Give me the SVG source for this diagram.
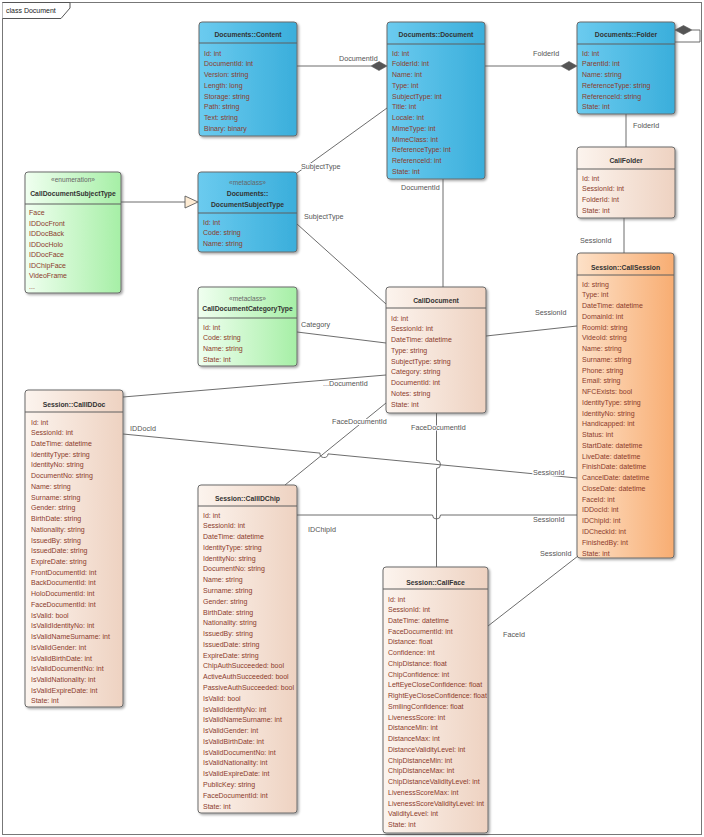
<svg xmlns="http://www.w3.org/2000/svg" width="704" height="837" viewBox="0 0 704 837">
<defs>
<linearGradient id="gB" x1="0" y1="0" x2="1" y2="0"><stop offset="0" stop-color="#6bcbef"/><stop offset="1" stop-color="#3aaedb"/></linearGradient>
<linearGradient id="gP" x1="0" y1="0" x2="1" y2="0"><stop offset="0" stop-color="#fcf4ee"/><stop offset="1" stop-color="#eed2c1"/></linearGradient>
<linearGradient id="gO" x1="0" y1="0" x2="1" y2="0"><stop offset="0" stop-color="#fde1c8"/><stop offset="1" stop-color="#f8ad72"/></linearGradient>
<linearGradient id="gG" x1="0" y1="0" x2="1" y2="0"><stop offset="0" stop-color="#f0fff0"/><stop offset="1" stop-color="#a6efa6"/></linearGradient>
<filter id="sh" x="-10%" y="-10%" width="130%" height="130%"><feDropShadow dx="1.5" dy="1.5" stdDeviation="1" flood-color="#000" flood-opacity="0.35"/></filter>
<clipPath id="cChip"><rect x="198" y="485" width="98.5" height="328"/></clipPath>
<clipPath id="cFace"><rect x="383" y="567" width="104.5" height="266"/></clipPath>
</defs>
<style>
.bx{stroke:#6a6a6a;stroke-width:1;filter:url(#sh)}
.sep{stroke:#5e5e5e;stroke-width:1}
text{font-family:"Liberation Sans",Arial,sans-serif}
.t{font-size:6.8px;font-weight:bold;fill:#333;text-anchor:middle}
.st{font-size:6.6px;fill:#666;text-anchor:middle}
.a{font-size:7px;fill:#8c3b2c}
.l{font-size:7.2px;fill:#555;paint-order:stroke;stroke:#fff;stroke-width:2px;stroke-linejoin:round}
.c{stroke:#5c5c5c;stroke-width:0.9;fill:none}
.d{fill:#555;stroke:#555;stroke-width:0.6}
</style>
<g id="frame">
<rect x="2.5" y="2.5" width="699" height="832" fill="#fff" stroke="#777"/>
<path d="M2.5,2.5 H70 V8 L61,18.5 H2.5" fill="#fff" stroke="#555"/>
<text x="6" y="13" font-size="7" fill="#222">class Document</text>
</g>

<g id="content">
<rect class="bx" x="199" y="22" width="98" height="114" rx="3" fill="url(#gB)"/>
<line class="sep" x1="199" y1="43" x2="297" y2="43"/>
<text class="t" x="248" y="36.5">Documents::Content</text>
<text class="a"><tspan x="204" y="55.5">Id: int</tspan><tspan x="204" dy="10.75">DocumentId: int</tspan><tspan x="204" dy="10.75">Version: string</tspan><tspan x="204" dy="10.75">Length: long</tspan><tspan x="204" dy="10.75">Storage: string</tspan><tspan x="204" dy="10.75">Path: string</tspan><tspan x="204" dy="10.75">Text: string</tspan><tspan x="204" dy="10.75">Binary: binary</tspan></text>
</g>

<g id="document">
<rect class="bx" x="387" y="22" width="98" height="157" rx="3" fill="url(#gB)"/>
<line class="sep" x1="387" y1="44" x2="485" y2="44"/>
<text class="t" x="436" y="36.5">Documents::Document</text>
<text class="a"><tspan x="392" y="55.5">Id: int</tspan><tspan x="392" dy="10.75">FolderId: int</tspan><tspan x="392" dy="10.75">Name: int</tspan><tspan x="392" dy="10.75">Type: int</tspan><tspan x="392" dy="10.75">SubjectType: int</tspan><tspan x="392" dy="10.75">Title: int</tspan><tspan x="392" dy="10.75">Locale: int</tspan><tspan x="392" dy="10.75">MimeType: int</tspan><tspan x="392" dy="10.75">MimeClass: int</tspan><tspan x="392" dy="10.75">ReferenceType: int</tspan><tspan x="392" dy="10.75">ReferenceId: int</tspan><tspan x="392" dy="10.75">State: int</tspan></text>
</g>

<g id="folder">
<rect class="bx" x="577" y="22" width="98" height="92" rx="3" fill="url(#gB)"/>
<line class="sep" x1="577" y1="44" x2="675" y2="44"/>
<text class="t" x="626" y="36.5">Documents::Folder</text>
<text class="a"><tspan x="582" y="55.5">Id: int</tspan><tspan x="582" dy="10.75">ParentId: int</tspan><tspan x="582" dy="10.75">Name: string</tspan><tspan x="582" dy="10.75">ReferenceType: string</tspan><tspan x="582" dy="10.75">ReferenceId: string</tspan><tspan x="582" dy="10.75">State: int</tspan></text>
</g>

<g id="callfolder">
<rect class="bx" x="577" y="147" width="98" height="71" rx="3" fill="url(#gP)"/>
<line class="sep" x1="577" y1="169" x2="675" y2="169"/>
<text class="t" x="626" y="162.5">CallFolder</text>
<text class="a"><tspan x="582" y="180.5">Id: int</tspan><tspan x="582" dy="10.75">SessionId: int</tspan><tspan x="582" dy="10.75">FolderId: int</tspan><tspan x="582" dy="10.75">State: int</tspan></text>
</g>

<g id="enum-subjecttype">
<rect class="bx" x="25" y="172" width="96" height="121" rx="3" fill="url(#gG)"/>
<line class="sep" x1="25" y1="204" x2="121" y2="204"/>
<text class="st" x="73" y="181.5">«enumeration»</text>
<text class="t" x="73" y="195.5">CallDocumentSubjectType</text>
<text class="a"><tspan x="29" y="215.2">Face</tspan><tspan x="29" dy="10.5">IDDocFront</tspan><tspan x="29" dy="10.5">IDDocBack</tspan><tspan x="29" dy="10.5">IDDocHolo</tspan><tspan x="29" dy="10.5">IDDocFace</tspan><tspan x="29" dy="10.5">IDChipFace</tspan><tspan x="29" dy="10.5">VideoFrame</tspan><tspan x="29" dy="10.5">...</tspan></text>
</g>

<g id="documentsubjecttype">
<rect class="bx" x="198" y="172" width="99" height="80" rx="3" fill="url(#gB)"/>
<line class="sep" x1="198" y1="213" x2="297" y2="213"/>
<text class="st" x="247.5" y="184.5">«metaclass»</text>
<text class="t" x="247.5" y="195.5">Documents::</text>
<text class="t" x="247.5" y="206.5">DocumentSubjectType</text>
<text class="a"><tspan x="203" y="224.5">Id: int</tspan><tspan x="203" dy="10.75">Code: string</tspan><tspan x="203" dy="10.75">Name: string</tspan></text>
</g>

<g id="categorytype">
<rect class="bx" x="198" y="287" width="99" height="79" rx="3" fill="url(#gG)"/>
<line class="sep" x1="198" y1="318" x2="297" y2="318"/>
<text class="st" x="247.5" y="300.5">«metaclass»</text>
<text class="t" x="247.5" y="310.5">CallDocumentCategoryType</text>
<text class="a"><tspan x="203" y="329.5">Id: int</tspan><tspan x="203" dy="10.75">Code: string</tspan><tspan x="203" dy="10.75">Name: string</tspan><tspan x="203" dy="10.75">State: int</tspan></text>
</g>

<g id="calldocument">
<rect class="bx" x="386" y="287" width="100" height="126" rx="3" fill="url(#gP)"/>
<line class="sep" x1="386" y1="308" x2="486" y2="308"/>
<text class="t" x="436" y="302.5">CallDocument</text>
<text class="a"><tspan x="391" y="320.5">Id: int</tspan><tspan x="391" dy="10.75">SessionId: int</tspan><tspan x="391" dy="10.75">DateTime: datetime</tspan><tspan x="391" dy="10.75">Type: string</tspan><tspan x="391" dy="10.75">SubjectType: string</tspan><tspan x="391" dy="10.75">Category: string</tspan><tspan x="391" dy="10.75">DocumentId: int</tspan><tspan x="391" dy="10.75">Notes: string</tspan><tspan x="391" dy="10.75">State: int</tspan></text>
</g>

<g id="callsession">
<rect class="bx" x="577" y="253" width="97" height="305" rx="3" fill="url(#gO)"/>
<line class="sep" x1="577" y1="275" x2="674" y2="275"/>
<text class="t" x="625.5" y="269.5">Session::CallSession</text>
<text class="a"><tspan x="582" y="286.5">Id: string</tspan><tspan x="582" dy="10.76">Type: int</tspan><tspan x="582" dy="10.76">DateTime: datetime</tspan><tspan x="582" dy="10.76">DomainId: int</tspan><tspan x="582" dy="10.76">RoomId: string</tspan><tspan x="582" dy="10.76">VideoId: string</tspan><tspan x="582" dy="10.76">Name: string</tspan><tspan x="582" dy="10.76">Surname: string</tspan><tspan x="582" dy="10.76">Phone: string</tspan><tspan x="582" dy="10.76">Email: string</tspan><tspan x="582" dy="10.76">NFCExists: bool</tspan><tspan x="582" dy="10.76">IdentityType: string</tspan><tspan x="582" dy="10.76">IdentityNo: string</tspan><tspan x="582" dy="10.76">Handicapped: int</tspan><tspan x="582" dy="10.76">Status: int</tspan><tspan x="582" dy="10.76">StartDate: datetime</tspan><tspan x="582" dy="10.76">LiveDate: datetime</tspan><tspan x="582" dy="10.76">FinishDate: datetime</tspan><tspan x="582" dy="10.76">CancelDate: datetime</tspan><tspan x="582" dy="10.76">CloseDate: datetime</tspan><tspan x="582" dy="10.76">FaceId: int</tspan><tspan x="582" dy="10.76">IDDocId: int</tspan><tspan x="582" dy="10.76">IDChipId: int</tspan><tspan x="582" dy="10.76">IDCheckId: int</tspan><tspan x="582" dy="10.76">FinishedBy: int</tspan><tspan x="582" dy="10.76">State: int</tspan></text>
</g>

<g id="calliddoc">
<rect class="bx" x="25" y="390" width="98" height="317" rx="3" fill="url(#gP)"/>
<line class="sep" x1="25" y1="412" x2="123" y2="412"/>
<text class="t" x="74" y="406.5">Session::CallIDDoc</text>
<text class="a"><tspan x="31" y="424.5">Id: int</tspan><tspan x="31" dy="10.73">SessionId: int</tspan><tspan x="31" dy="10.73">DateTime: datetime</tspan><tspan x="31" dy="10.73">IdentityType: string</tspan><tspan x="31" dy="10.73">IdentityNo: string</tspan><tspan x="31" dy="10.73">DocumentNo: string</tspan><tspan x="31" dy="10.73">Name: string</tspan><tspan x="31" dy="10.73">Surname: string</tspan><tspan x="31" dy="10.73">Gender: string</tspan><tspan x="31" dy="10.73">BirthDate: string</tspan><tspan x="31" dy="10.73">Nationality: string</tspan><tspan x="31" dy="10.73">IssuedBy: string</tspan><tspan x="31" dy="10.73">IssuedDate: string</tspan><tspan x="31" dy="10.73">ExpireDate: string</tspan><tspan x="31" dy="10.73">FrontDocumentId: int</tspan><tspan x="31" dy="10.73">BackDocumentId: int</tspan><tspan x="31" dy="10.73">HoloDocumentId: int</tspan><tspan x="31" dy="10.73">FaceDocumentId: int</tspan><tspan x="31" dy="10.73">IsValid: bool</tspan><tspan x="31" dy="10.73">IsValidIdentityNo: int</tspan><tspan x="31" dy="10.73">IsValidNameSurname: int</tspan><tspan x="31" dy="10.73">IsValidGender: int</tspan><tspan x="31" dy="10.73">IsValidBirthDate: int</tspan><tspan x="31" dy="10.73">IsValidDocumentNo: int</tspan><tspan x="31" dy="10.73">IsValidNationality: int</tspan><tspan x="31" dy="10.73">IsValidExpireDate: int</tspan><tspan x="31" dy="10.73">State: int</tspan></text>
</g>

<g id="callidchip">
<rect class="bx" x="198" y="485" width="99" height="328" rx="3" fill="url(#gP)"/>
<line class="sep" x1="198" y1="506" x2="297" y2="506"/>
<text class="t" x="247.5" y="500.5">Session::CallIDChip</text>
<text class="a" clip-path="url(#cChip)"><tspan x="203" y="517.5">Id: int</tspan><tspan x="203" dy="10.78">SessionId: int</tspan><tspan x="203" dy="10.78">DateTime: datetime</tspan><tspan x="203" dy="10.78">IdentityType: string</tspan><tspan x="203" dy="10.78">IdentityNo: string</tspan><tspan x="203" dy="10.78">DocumentNo: string</tspan><tspan x="203" dy="10.78">Name: string</tspan><tspan x="203" dy="10.78">Surname: string</tspan><tspan x="203" dy="10.78">Gender: string</tspan><tspan x="203" dy="10.78">BirthDate: string</tspan><tspan x="203" dy="10.78">Nationality: string</tspan><tspan x="203" dy="10.78">IssuedBy: string</tspan><tspan x="203" dy="10.78">IssuedDate: string</tspan><tspan x="203" dy="10.78">ExpireDate: string</tspan><tspan x="203" dy="10.78">ChipAuthSucceeded: bool</tspan><tspan x="203" dy="10.78">ActiveAuthSucceeded: bool</tspan><tspan x="203" dy="10.78">PassiveAuthSucceeded: bool</tspan><tspan x="203" dy="10.78">IsValid: bool</tspan><tspan x="203" dy="10.78">IsValidIdentityNo: int</tspan><tspan x="203" dy="10.78">IsValidNameSurname: int</tspan><tspan x="203" dy="10.78">IsValidGender: int</tspan><tspan x="203" dy="10.78">IsValidBirthDate: int</tspan><tspan x="203" dy="10.78">IsValidDocumentNo: int</tspan><tspan x="203" dy="10.78">IsValidNationality: int</tspan><tspan x="203" dy="10.78">IsValidExpireDate: int</tspan><tspan x="203" dy="10.78">PublicKey: string</tspan><tspan x="203" dy="10.78">FaceDocumentId: int</tspan><tspan x="203" dy="10.78">State: int</tspan></text>
</g>

<g id="callface">
<rect class="bx" x="383" y="567" width="105" height="266" rx="3" fill="url(#gP)"/>
<line class="sep" x1="383" y1="589" x2="488" y2="589"/>
<text class="t" x="435.5" y="585">Session::CallFace</text>
<text class="a" clip-path="url(#cFace)"><tspan x="388" y="601.5">Id: int</tspan><tspan x="388" dy="10.74">SessionId: int</tspan><tspan x="388" dy="10.74">DateTime: datetime</tspan><tspan x="388" dy="10.74">FaceDocumentId: int</tspan><tspan x="388" dy="10.74">Distance: float</tspan><tspan x="388" dy="10.74">Confidence: int</tspan><tspan x="388" dy="10.74">ChipDistance: float</tspan><tspan x="388" dy="10.74">ChipConfidence: int</tspan><tspan x="388" dy="10.74">LeftEyeCloseConfidence: float</tspan><tspan x="388" dy="10.74">RightEyeCloseConfidence: float</tspan><tspan x="388" dy="10.74">SmilingConfidence: float</tspan><tspan x="388" dy="10.74">LivenessScore: int</tspan><tspan x="388" dy="10.74">DistanceMin: int</tspan><tspan x="388" dy="10.74">DistanceMax: int</tspan><tspan x="388" dy="10.74">DistanceValidityLevel: int</tspan><tspan x="388" dy="10.74">ChipDistanceMin: int</tspan><tspan x="388" dy="10.74">ChipDistanceMax: int</tspan><tspan x="388" dy="10.74">ChipDistanceValidityLevel: int</tspan><tspan x="388" dy="10.74">LivenessScoreMax: int</tspan><tspan x="388" dy="10.74">LivenessScoreValidityLevel: int</tspan><tspan x="388" dy="10.74">ValidityLevel: int</tspan><tspan x="388" dy="10.74">State: int</tspan></text>
</g>

<g id="connectors">
<path class="c" d="M297,66 H371"/>
<polygon class="d" points="387,66 379,61.5 371,66 379,70.5"/>
<path class="c" d="M485,66 H561"/>
<polygon class="d" points="577,66 569,61.5 561,66 569,70.5"/>
<polygon class="d" points="675,30 683.5,25.5 692,30 683.5,34.5"/>
<path class="c" d="M692,30 H700 V42 H675"/>
<path class="c" d="M626,114 V147"/>
<path class="c" d="M624,218 V253"/>
<path class="c" d="M387,108 L297,173"/>
<path class="c" d="M297,224 L386,304"/>
<path class="c" d="M443,179 V287"/>
<path class="c" d="M121,202 H185"/>
<polygon points="198,202 185,196 185,208" fill="#fdebd3" stroke="#5c5c5c" stroke-width="0.9"/>
<path class="c" d="M297,332 L386,343"/>
<path class="c" d="M486,336 L577,326"/>
<path class="c" d="M123,397 L386,375"/>
<path class="c" d="M123,434 L320,453.1 A4,4 0 0 0 328,453.9 L577,478"/>
<path class="c" d="M386,403 L285,485"/>
<path class="c" d="M436.5,413 V460.4 A4,4 0 0 1 436.5,468.4 V567"/>
<path class="c" d="M297,515 H432.5 A4,4 0 0 0 440.5,515 H577"/>
<path class="c" d="M488,626 L578,556"/>
<text class="l" x="339" y="60.5">DocumentId</text>
<text class="l" x="533" y="55.5">FolderId</text>
<text class="l" x="633" y="127.5">FolderId</text>
<text class="l" x="580" y="242.5">SessionId</text>
<text class="l" x="401" y="189.5">DocumentId</text>
<text class="l" x="301" y="169">SubjectType</text>
<text class="l" x="304" y="219">SubjectType</text>
<text class="l" x="301" y="327">Category</text>
<text class="l" x="535" y="315">SessionId</text>
<text class="l" x="323" y="385.5">...DocumentId</text>
<text class="l" x="332" y="424">FaceDocumentId</text>
<text class="l" x="411" y="429.5">FaceDocumentId</text>
<text class="l" x="130" y="431">IDDocId</text>
<text class="l" x="533" y="475">SessionId</text>
<text class="l" x="308" y="532">IDChipId</text>
<text class="l" x="533" y="522">SessionId</text>
<text class="l" x="540" y="556">SessionId</text>
<text class="l" x="503" y="637">FaceId</text>
</g>
</svg>
